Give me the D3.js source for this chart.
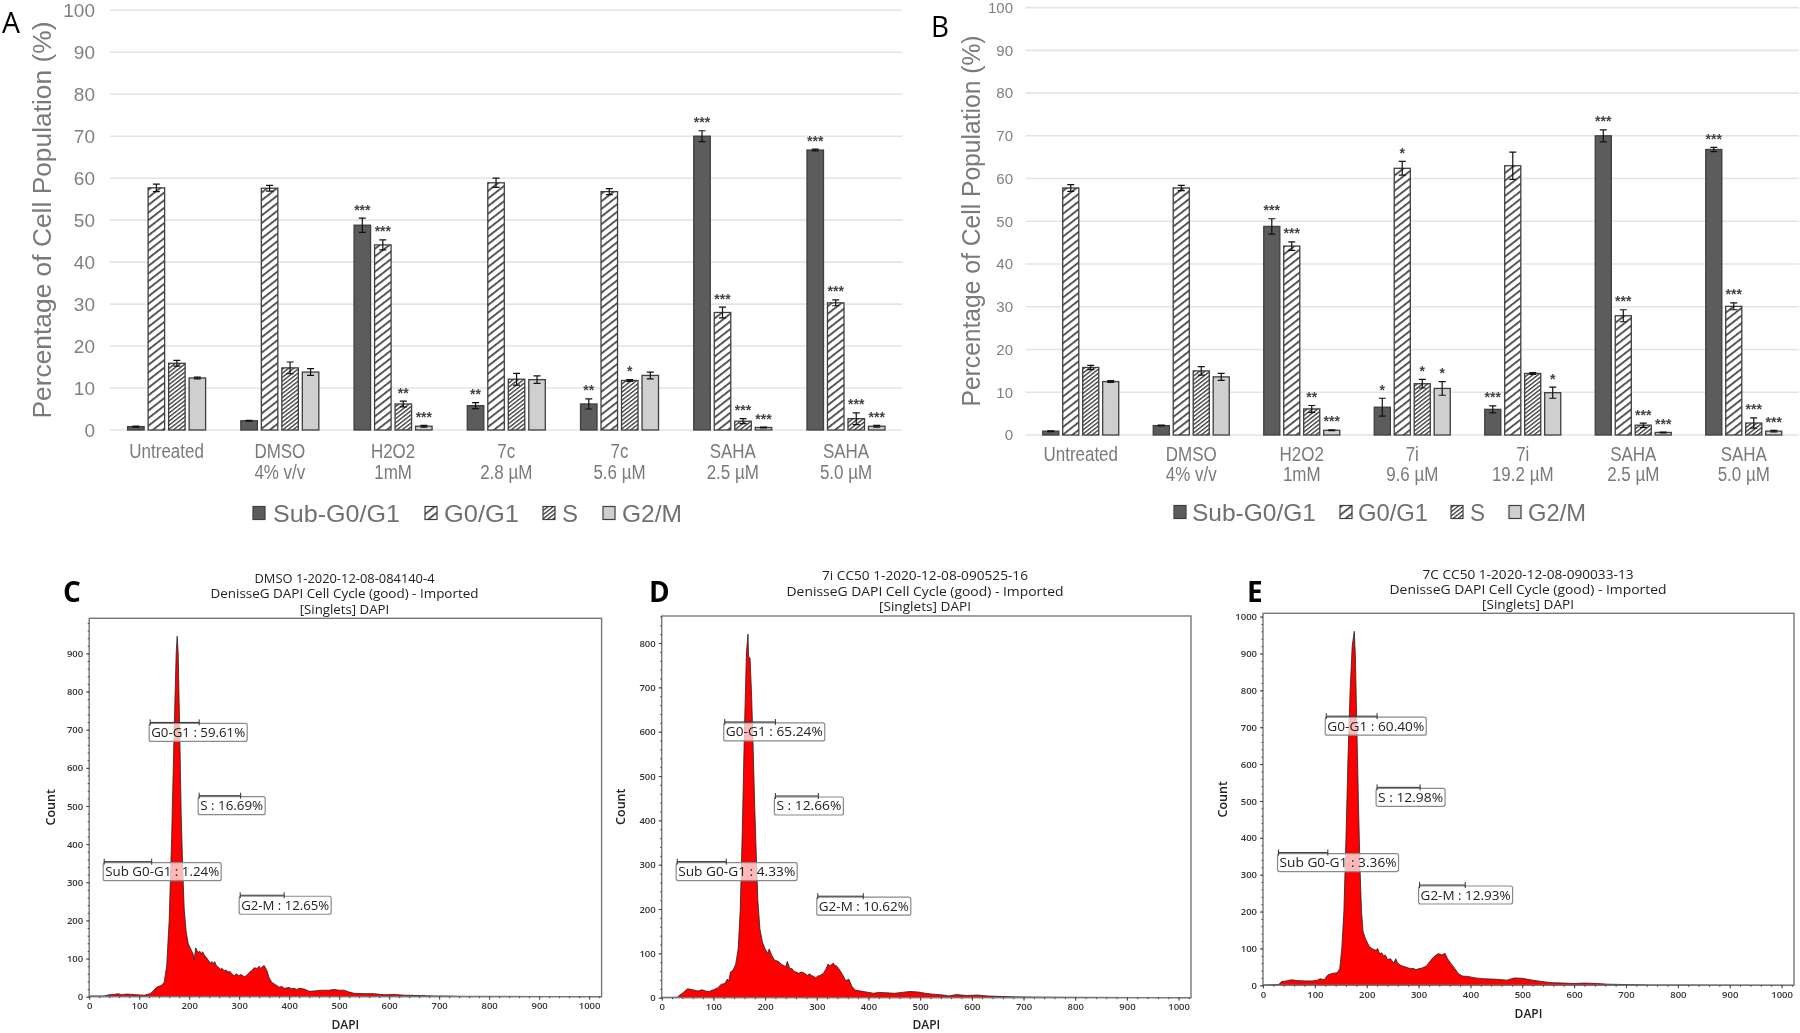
<!DOCTYPE html>
<html><head><meta charset="utf-8">
<script src="https://d3js.org/d3.v7.min.js"></script>
<style>html,body{margin:0;background:#fff}svg{display:block;filter:blur(.65px)}</style>
</head><body><svg id="c" width="1800" height="1033"></svg>
<script>
const seriesNames=["Sub-G0/G1","G0/G1","S","G2/M"];
const catsA=[["Untreated"],["DMSO","4% v/v"],["H2O2","1mM"],["7c","2.8 µM"],["7c","5.6 µM"],["SAHA","2.5 µM"],["SAHA","5.0 µM"]];
const catsB=[["Untreated"],["DMSO","4% v/v"],["H2O2","1mM"],["7i","9.6 µM"],["7i","19.2 µM"],["SAHA","2.5 µM"],["SAHA","5.0 µM"]];
const yTicks=[0,10,20,30,40,50,60,70,80,90,100];
const valsA=[[0.8,2.2,48.8,5.8,6.2,70,66.7],[57.7,57.6,44.1,58.9,56.8,28,30.3],[15.9,14.8,6.2,12.1,11.8,2.1,2.7],[12.4,13.8,0.9,12,13,0.6,0.9]];
const errsA=[[0.1,0.1,1.7,0.7,1.2,1.3,0.2],[0.9,0.7,1.2,1.1,0.7,1.3,0.7],[0.7,1.4,0.7,1.4,0.2,0.6,1.4],[0.2,0.8,0.2,0.9,0.8,0.1,0.2]];
const starsA=[["","","***","**","**","***","***"],["","","***","","","***","***"],["","","**","","*","***","***"],["","","***","","","***","***"]];
const valsB=[[0.9,2.2,48.8,6.5,6,70,66.8],[57.8,57.8,44.2,62.4,63,27.9,30.1],[15.8,15,6.1,12,14.4,2.3,2.8],[12.5,13.6,1.1,10.9,9.9,0.6,0.9]];
const errsB=[[0.1,0.1,1.8,2.1,0.8,1.4,0.5],[0.8,0.6,1,1.6,3.2,1.4,0.8],[0.5,1,0.8,1,0.2,0.5,1.2],[0.2,0.8,0.1,1.6,1.3,0.1,0.2]];
const starsB=[["","","***","*","***","***","***"],["","","***","*","","***","***"],["","","**","*","","***","***"],["","","***","*","*","***","***"]];
const histC=[[0,2],[30,2],[40,5],[50,6],[58,8],[65,5],[75,7],[85,6],[95,5],[110,4],[122,8],[128,15],[135,25],[145,30],[150,38],[155,80],[160,200],[165,420],[170,700],[174,900],[176,945],[178,900],[181,700],[184,480],[187,340],[190,230],[194,170],[198,140],[203,125],[208,112],[210,95],[213,128],[218,115],[221,120],[224,112],[227,118],[230,110],[233,104],[236,100],[239,94],[242,88],[245,92],[248,86],[251,92],[255,80],[258,78],[262,72],[266,74],[270,68],[274,70],[278,65],[282,66],[285,60],[290,55],[295,60],[299,55],[303,58],[307,56],[310,52],[314,55],[318,60],[322,66],[325,68],[330,76],[336,74],[340,80],[343,74],[346,78],[350,82],[355,70],[360,50],[365,38],[372,32],[380,25],[385,27],[390,22],[400,24],[405,21],[410,22],[415,19],[420,22],[430,20],[440,14],[450,15],[465,17],[480,17],[490,19],[500,17],[510,17],[520,12],[530,9],[550,8],[570,8],[590,5],[610,6],[630,4],[660,3],[690,2],[710,2],[750,1],[800,1],[1025,0]];
const histD=[[0,1],[30,1],[35,6],[42,12],[50,20],[60,18],[70,15],[78,18],[85,15],[92,14],[100,18],[108,22],[115,30],[122,32],[127,42],[130,38],[133,58],[138,62],[143,75],[148,110],[152,200],[156,380],[160,600],[164,780],[167,820],[168,770],[171,765],[174,680],[177,560],[180,430],[183,320],[186,220],[190,155],[195,125],[200,110],[205,100],[208,110],[213,95],[218,85],[225,82],[232,75],[240,70],[243,82],[248,65],[252,66],[255,60],[260,58],[265,55],[270,58],[275,56],[282,50],[286,54],[290,50],[294,48],[298,45],[302,49],[306,50],[313,55],[318,65],[322,76],[325,72],[328,74],[332,78],[335,72],[338,72],[343,65],[350,52],[356,38],[362,42],[368,25],[375,17],[385,15],[395,13],[410,10],[420,12],[435,11],[450,10],[465,12],[480,14],[495,13],[510,10],[525,8],[545,6],[555,4],[570,7],[590,5],[610,6],[630,4],[650,3],[680,2],[720,1.5],[800,1],[1024,0]];
const histE=[[0,1],[30,2],[36,10],[45,12],[55,15],[65,13],[80,12],[95,12],[105,14],[110,18],[118,15],[125,28],[133,32],[143,34],[148,45],[152,100],[156,200],[160,400],[164,620],[168,800],[172,920],[176,960],[178,900],[181,700],[184,500],[187,320],[190,200],[193,145],[198,125],[205,105],[212,98],[218,95],[221,100],[225,85],[229,88],[232,80],[236,82],[240,70],[246,72],[249,66],[252,60],[256,72],[259,62],[262,58],[266,54],[270,52],[274,50],[278,48],[285,45],[290,46],[295,42],[300,45],[305,46],[315,52],[322,65],[330,78],[338,86],[345,82],[351,87],[356,72],[362,60],[370,45],[378,30],[385,25],[395,24],[410,20],[425,18],[440,17],[455,16],[470,14],[485,20],[500,19],[515,15],[530,12],[545,9],[560,7],[580,6],[600,5],[620,6],[645,5],[665,3],[700,2],[750,1],[800,1],[1024,0]];
const gateX=[[122,220],[220,303],[30,125],[302,390]];
const gatesC=[["G0-G1 : 59.61%",719],["S : 16.69%",527],["Sub G0-G1 : 1.24%",354],["G2-M : 12.65%",266]];
const gatesD=[["G0-G1 : 65.24%",622],["S : 12.66%",455],["Sub G0-G1 : 4.33%",307],["G2-M : 10.62%",229]];
const gatesE=[["G0-G1 : 60.40%",730],["S : 12.98%",537],["Sub G0-G1 : 3.36%",360],["G2-M : 12.93%",272]];

const svg=d3.select("#c"),defs=svg.append("defs");
const FONT="'Liberation Sans',Arial,sans-serif",FC="'Open Sans',Tahoma,sans-serif";
function pat(id,sp,w){const p=defs.append("pattern").attr("id",id).attr("patternUnits","userSpaceOnUse").attr("width",sp).attr("height",sp).attr("patternTransform","rotate(52)");
 p.append("rect").attr("width",sp).attr("height",sp).attr("fill","#fff");
 p.append("rect").attr("width",w).attr("height",sp).attr("fill","#3d3d3d");}
pat("pg0",6,1.7);pat("ps",3.2,1.35);
const fills=["#5c5c5c","url(#pg0)","url(#ps)","#cfcfcf"];

function barPanel(o){
 const g=svg.append("g");
 const y=d3.scaleLinear().domain([0,100]).range([o.y0,o.y100]);
 const x=d3.scaleBand().domain(d3.range(o.cats.length)).range([o.x0,o.x1]);
 const xs=d3.scaleBand().domain(d3.range(4)).range([0,o.inner]).paddingInner(.195);
 const ox=(x.bandwidth()-o.inner)/2;
 g.selectAll(".gl").data(yTicks).join("line").attr("x1",o.x0).attr("x2",o.x1).attr("y1",d=>y(d)).attr("y2",d=>y(d)).attr("stroke","#e4e4e4").attr("stroke-width",1.6);
 const ax=g.append("g").attr("transform",`translate(${o.tickX},0)`).call(d3.axisLeft(y).tickValues(yTicks).tickSize(0).tickPadding(0));
 ax.select(".domain").remove();
 ax.selectAll("text").attr("font-family",FONT).attr("font-size",o.tickFont).attr("fill","#808080");
 o.vals.forEach((arr,s)=>{
  arr.forEach((v,i)=>{
   const bx=x(i)+ox+xs(s),w=xs.bandwidth(),cx=bx+w/2;
   g.append("rect").attr("x",bx).attr("y",y(v)).attr("width",w).attr("height",y(0)-y(v)).attr("fill",fills[s]).attr("stroke","#3f3f3f").attr("stroke-width",1.3);
   const e=o.errs[s][i];
   g.append("path").attr("d",`M${cx-3.5},${y(v+e)}H${cx+3.5}M${cx},${y(v+e)}V${y(Math.max(v-e,0))}M${cx-3.5},${y(Math.max(v-e,0))}H${cx+3.5}`).attr("stroke","#111").attr("stroke-width",1.2).attr("fill","none");
   const st=o.stars[s][i];
   if(st) g.append("text").attr("x",cx).attr("y",y(v+e)-3.5).attr("text-anchor","middle").attr("font-family",FONT).attr("font-size",14).attr("font-weight","bold").attr("fill","#444").text(st);
  });
 });
 o.cats.forEach((c,i)=>{c.forEach((t,k)=>{
  const n=g.append("text").attr("x",x(i)+x.bandwidth()/2+o.catDx).attr("y",o.catY[k]).attr("text-anchor","middle").attr("font-family",FONT).attr("font-size",19.5).attr("fill","#7a7a7a").text(t);
  n.attr("textLength",n.node().getComputedTextLength()*.87).attr("lengthAdjust","spacingAndGlyphs");
 });});
 g.append("text").attr("transform",`translate(${o.titleX},${o.titleY}) rotate(-90)`).attr("text-anchor","middle").attr("font-family",FONT).attr("font-size",26).attr("fill","#7a7a7a").attr("textLength",o.titleLen).attr("lengthAdjust","spacingAndGlyphs").text("Percentage of Cell Population (%)");
 seriesNames.forEach((n,s)=>{
  const L=o.legend[s];
  g.append("rect").attr("x",L[0]).attr("y",o.legY-6.5).attr("width",12).attr("height",13).attr("fill",s==1?"url(#pg0)":fills[s]).attr("stroke","#3f3f3f").attr("stroke-width",1.2);
  g.append("text").attr("x",L[1]).attr("y",o.legY+8.5).attr("font-family",FONT).attr("font-size",24).attr("fill","#707070").attr("textLength",L[2]).attr("lengthAdjust","spacingAndGlyphs").text(n);
 });
 g.append("text").attr("x",o.letter[0]).attr("y",o.letter[1]).attr("font-family",FC).attr("font-size",29).attr("fill","#000").attr("textLength",18).attr("lengthAdjust","spacingAndGlyphs").text(o.letter[2]);
}
barPanel({cats:catsA,vals:valsA,errs:errsA,stars:starsA,x0:110,x1:902.6,y0:430,y100:10.3,inner:78,catDx:0,tickX:95,tickFont:19,catY:[458,479],titleX:51,titleY:220,titleLen:397,legY:513,
 legend:[[253,273,127],[425,444,75],[543,562,16],[603,622,60]],letter:[2,33,"A"]});
barPanel({cats:catsB,vals:valsB,errs:errsB,stars:starsB,x0:1025.5,x1:1799,y0:435,y100:7.6,inner:76,catDx:0,tickX:1013,tickFont:15,catY:[461,481],titleX:980,titleY:221,titleLen:371,legY:512,
 legend:[[1174,1192,124],[1340,1358,70],[1451,1470,15],[1509,1528,58]],letter:[931,37,"B"]});

function hist(o){
 const g=svg.append("g");
 const x=d3.scaleLinear().domain([0,o.xMax]).range([o.l,o.r]);
 const y=d3.scaleLinear().domain([0,o.yMax]).range([o.b,o.t]);
 g.append("path").datum(o.data).attr("d",d3.area().x(d=>x(d[0])).y0(y(0)).y1(d=>y(d[1]))).attr("fill","#ff0000");
 g.append("path").datum(o.data).attr("d",d3.line().x(d=>x(d[0])).y(d=>y(d[1]))).attr("fill","none").attr("stroke","#222").attr("stroke-width",.8);
 g.append("rect").attr("x",o.l).attr("y",o.t).attr("width",o.r-o.l).attr("height",o.b-o.t).attr("fill","none").attr("stroke","#777").attr("stroke-width",1.4);
 const xT=d3.range(0,1001,100),xM=d3.range(0,1021,20),yT=d3.range(0,o.yMax,100),yM=d3.range(0,o.yMax,20);
 const style=a=>{a.select(".domain").remove();a.selectAll("line").attr("stroke","#444");a.selectAll("text").attr("font-family",FC).attr("font-size",9.5).attr("font-weight",600).attr("fill","#333");};
 const fmt=d3.format("d");
 g.append("g").attr("transform",`translate(0,${o.b})`).call(d3.axisBottom(x).tickValues(xM).tickSize(1.5).tickFormat("")).call(style);
 g.append("g").attr("transform",`translate(${o.l},0)`).call(d3.axisLeft(y).tickValues(yM).tickSize(1.5).tickFormat("")).call(style);
 g.append("g").attr("transform",`translate(0,${o.b})`).call(d3.axisBottom(x).tickValues(xT).tickFormat(fmt).tickSize(3).tickPadding(3)).call(style);
 g.append("g").attr("transform",`translate(${o.l},0)`).call(d3.axisLeft(y).tickValues(yT).tickFormat(fmt).tickSize(3).tickPadding(3)).call(style);
 o.gates.forEach((d,i)=>{
  const [a,b]=gateX[i],gy=y(d[1]),xa=x(a),xb=x(b);
  g.append("rect").attr("x",xa-1).attr("y",gy+1).attr("rx",2).attr("width",o.boxW[i]+4).attr("height",18).attr("fill","#fff").attr("fill-opacity",.72).attr("stroke","#8a8a8a").attr("stroke-width",1.2);
  g.append("path").attr("d",`M${xa},${gy-3}V${gy+3}M${xa},${gy}H${xb}M${xb},${gy-3}V${gy+3}`).attr("stroke","#333").attr("stroke-width",1).attr("fill","none");
  g.append("text").attr("x",xa+1).attr("y",gy+14.5).attr("font-family",FC).attr("font-size",13).attr("fill","#222").attr("textLength",o.boxW[i]).attr("lengthAdjust","spacingAndGlyphs").text(d[0]);
 });
 o.title.forEach((t,i)=>{
  g.append("text").attr("x",o.tx).attr("y",o.ty[i]+4.5).attr("text-anchor","middle").attr("font-family",FC).attr("font-size",13).attr("fill","#222").attr("textLength",o.tl[i]).attr("lengthAdjust","spacingAndGlyphs").text(t);
 });
 g.append("text").attr("x",(o.l+o.r)/2).attr("y",o.dapiY+4).attr("text-anchor","middle").attr("font-family",FC).attr("font-size",12).attr("font-weight",600).attr("fill","#222").text("DAPI");
 g.append("text").attr("transform",`translate(${o.cx+4.5},${o.cy}) rotate(-90)`).attr("text-anchor","middle").attr("font-family",FC).attr("font-size",12.5).attr("font-weight",600).attr("fill","#222").text("Count");
 g.append("text").attr("x",o.letter[0]).attr("y",o.letter[1]).attr("font-family",FC).attr("font-size",28).attr("font-weight",700).attr("fill","#000").text(o.letter[2]);
}
hist({data:histC,gates:gatesC,l:89.2,r:601.6,t:618.3,b:996.7,xMax:1025,yMax:992,boxW:[94,63,114,88],
 title:["DMSO 1-2020-12-08-084140-4","DenisseG DAPI Cell Cycle (good) - Imported","[Singlets] DAPI"],tx:344.5,ty:[578.3,593.7,609],tl:[180,268,89.5],dapiY:1024.5,cx:50,cy:807.3,letter:[63,602,"C"]});
hist({data:histD,gates:gatesD,l:661.7,r:1191,t:616,b:997.7,xMax:1024,yMax:861,boxW:[97,65,117,90],
 title:["7i CC50 1-2020-12-08-090525-16","DenisseG DAPI Cell Cycle (good) - Imported","[Singlets] DAPI"],tx:925,ty:[575.7,591,606.7],tl:[206,277,92],dapiY:1024.5,cx:620,cy:806.7,letter:[649,602,"D"]});
hist({data:histE,gates:gatesE,l:1263,r:1794,t:613.3,b:985.3,xMax:1024,yMax:1009,boxW:[97,65,117,90],
 title:["7C CC50 1-2020-12-08-090033-13","DenisseG DAPI Cell Cycle (good) - Imported","[Singlets] DAPI"],tx:1528,ty:[574.3,589.7,604.7],tl:[211,277,92],dapiY:1013.7,cx:1222,cy:799.3,letter:[1247,602,"E"]});
</script></body></html>
